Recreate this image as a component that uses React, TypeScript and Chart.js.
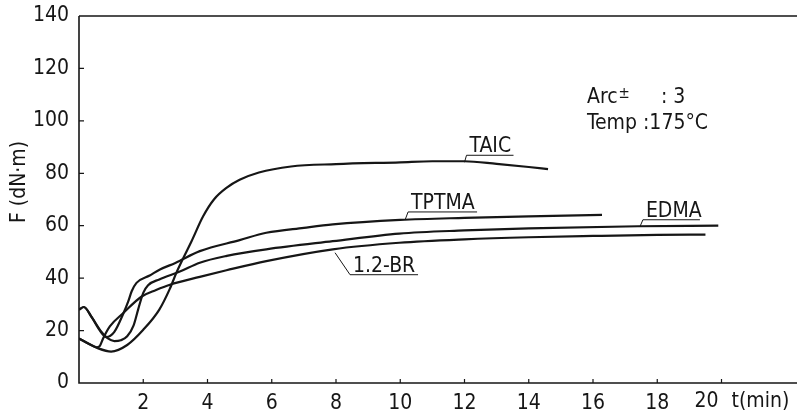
import { useEffect, useRef } from "react";
import { Chart, registerables } from "chart.js";

Chart.register(...registerables);

const FONT = '"DejaVu Sans Condensed", "DejaVu Sans", "Liberation Sans", sans-serif';
const INK = "#161616";

// Cure curves: torque F (dN·m) against time t (min)
const taicT = [0, 0.3, 0.6, 1.0, 1.5, 2.0, 2.5, 2.83, 3.03, 3.24, 3.5, 3.86, 4.2, 4.6, 5.0, 5.6, 6.6, 8.0, 10.0, 11.0, 12.0, 13.0, 14.0, 14.6];
const taicF = [17, 15, 13.2, 12, 14.5, 20.3, 28, 36, 42, 47.5, 54, 63.5, 70, 74.5, 77.5, 80.3, 82.6, 83.5, 84.2, 84.6, 84.6, 83.6, 82.4, 81.6];

const tptmaT = [0, 0.15, 0.4, 0.65, 0.85, 1.1, 1.38, 1.53, 1.64, 1.79, 2.2, 2.52, 3.0, 3.76, 5.0, 5.83, 7.0, 7.9, 10.0, 12.0, 14.0, 16.28];
const tptmaF = [28, 29, 25, 20, 17.5, 19.5, 26.5, 31, 35, 38.2, 41, 43.3, 45.8, 50.3, 54.5, 57.3, 59.2, 60.5, 62.2, 63.0, 63.6, 64.1];

const edmaT = [0, 0.15, 0.4, 0.7, 0.9, 1.1, 1.3, 1.5, 1.7, 1.84, 2.0, 2.15, 2.5, 3.14, 3.76, 4.6, 5.83, 7.9, 9.97, 12.0, 14.0, 17.4, 19.9];
const edmaF = [28, 29, 25, 19.5, 17, 16, 16.3, 17.8, 22, 28, 34.4, 37.3, 39.5, 42.5, 45.9, 48.5, 51, 54.1, 57.0, 58.2, 59.0, 59.8, 60.0];

const brT = [0, 0.3, 0.55, 0.65, 0.75, 0.96, 1.38, 1.95, 2.4, 2.83, 3.76, 4.59, 5.83, 7.9, 9.97, 12.0, 14.0, 16.0, 18.0, 19.5];
const brF = [17, 15, 13.6, 14.2, 17, 21.6, 26.7, 33, 35.5, 37.5, 40.5, 43, 46.5, 51, 53.5, 54.8, 55.6, 56.1, 56.5, 56.6];

const seriesNames = ["TAIC", "TPTMA", "EDMA", "1.2-BR"];

const xTicks = [2, 4, 6, 8, 10, 12, 14, 16, 18, 20];
const yTicks = [0, 20, 40, 60, 80, 100, 120, 140];
const xUnit = "t(min)";
const yTitle = "F (dN·m)";
const noteArc = ["Arc", "±", ": 3"];
const noteTemp = "Temp :175°C";

// Where each curve label's leader touches its curve (t, F)
const labelAnchorT = [12.0, 10.15, 17.46, 7.97];
const labelAnchorF = [84.2, 62.2, 59.6, 49.7];

const toPoints = (t: number[], f: number[]) => t.map((v, i) => ({ x: v, y: f[i] }));

export default function App() {
  const ref = useRef<HTMLCanvasElement | null>(null);

  useEffect(() => {
    const canvas = ref.current;
    if (!canvas) return;

    // label layout: leader offset to the underline start, underline width
    const labelGeom = [
      { dx: 2, dy: -7, w: 47 },
      { dx: 3, dy: -8, w: 69 },
      { dx: 3, dy: -7, w: 57 },
      { dx: 15, dy: 22, w: 68 },
    ];

    const decor = {
      id: "decor",
      afterDraw(chart: any) {
        const { ctx, chartArea } = chart;
        const xs = chart.scales.x;
        const ys = chart.scales.y;
        const W = chart.width;
        ctx.save();
        ctx.strokeStyle = INK;
        ctx.fillStyle = INK;
        ctx.lineCap = "butt";

        // frame: left, bottom, top
        ctx.lineWidth = 1.6;
        ctx.beginPath();
        ctx.moveTo(chartArea.left, chartArea.top);
        ctx.lineTo(W, chartArea.top);
        ctx.moveTo(chartArea.left, chartArea.top);
        ctx.lineTo(chartArea.left, chartArea.bottom);
        ctx.lineTo(W, chartArea.bottom);
        ctx.stroke();

        // inward tick marks
        ctx.lineWidth = 1.2;
        ctx.beginPath();
        yTicks.forEach((v) => {
          if (v === 0 || v === 140) return;
          const y = ys.getPixelForValue(v);
          ctx.moveTo(chartArea.left, y);
          ctx.lineTo(chartArea.left + 5, y);
        });
        xTicks.forEach((v) => {
          const x = xs.getPixelForValue(v);
          ctx.moveTo(x, chartArea.bottom);
          ctx.lineTo(x, chartArea.bottom - 4);
        });
        ctx.stroke();

        // last x tick label, then the unit
        ctx.font = `21px ${FONT}`;
        ctx.textBaseline = "middle";
        ctx.textAlign = "left";
        const last = xTicks[xTicks.length - 1];
        const lx = xs.getPixelForValue(last);
        ctx.fillText(String(last), lx - 27, 402);
        ctx.fillText(xUnit, lx + 10, 402);

        // y axis title
        ctx.save();
        ctx.translate(20, 182);
        ctx.rotate(-Math.PI / 2);
        ctx.textAlign = "center";
        ctx.fillText(yTitle, 0, 0);
        ctx.restore();

        // curve labels with leaders and underlines
        seriesNames.forEach((name, i) => {
          const ax = xs.getPixelForValue(labelAnchorT[i]);
          const ay = ys.getPixelForValue(labelAnchorF[i]);
          const g = labelGeom[i];
          const ux = ax + g.dx;
          const uy = ay + g.dy;
          ctx.lineWidth = 1;
          ctx.beginPath();
          ctx.moveTo(ax, ay);
          ctx.lineTo(ux, uy);
          ctx.lineTo(ux + g.w, uy);
          ctx.stroke();
          ctx.textAlign = "left";
          ctx.textBaseline = "alphabetic";
          ctx.fillText(name, ux + 3, uy - 3);
        });

        // test conditions
        ctx.textBaseline = "alphabetic";
        ctx.fillText(noteArc[0], 587, 103);
        const arcW = ctx.measureText(noteArc[0]).width;
        ctx.font = `15px ${FONT}`;
        ctx.fillText(noteArc[1], 587 + arcW + 1, 98);
        ctx.font = `21px ${FONT}`;
        ctx.fillText(noteArc[2], 661, 103);
        ctx.fillText(noteTemp, 587, 129);

        ctx.restore();
      },
    };

    const line = (pts: { x: number; y: number }[], label: string) => ({
      label,
      data: pts,
      borderColor: INK,
      borderWidth: 2.2,
      pointRadius: 0,
      fill: false,
      cubicInterpolationMode: "monotone" as const,
    });

    const chart = new Chart(canvas, {
      type: "line",
      data: {
        datasets: [
          line(toPoints(taicT, taicF), seriesNames[0]),
          line(toPoints(tptmaT, tptmaF), seriesNames[1]),
          line(toPoints(edmaT, edmaF), seriesNames[2]),
          line(toPoints(brT, brF), seriesNames[3]),
        ],
      },
      options: {
        responsive: false,
        animation: false,
        layout: { padding: { top: 16, right: 0, left: 0, bottom: 0 } },
        plugins: { legend: { display: false }, tooltip: { enabled: false } },
        scales: {
          x: {
            type: "linear",
            min: 0,
            max: 22.35,
            grid: { display: false, drawTicks: false },
            border: { display: false },
            afterBuildTicks: (s: any) => {
              s.ticks = xTicks.map((v) => ({ value: v }));
            },
            afterFit: (s: any) => {
              s.height = 31;
              s.paddingLeft = 0;
              s.paddingRight = 0;
            },
            ticks: {
              autoSkip: false,
              maxRotation: 0,
              padding: 8,
              color: INK,
              font: { family: FONT, size: 21 },
              callback: (v: any) => (v === xTicks[xTicks.length - 1] ? "" : String(v)),
            },
          },
          y: {
            min: 0,
            max: 140,
            grid: { display: false, drawTicks: false },
            border: { display: false },
            afterBuildTicks: (s: any) => {
              s.ticks = yTicks.map((v) => ({ value: v }));
            },
            afterFit: (s: any) => {
              s.width = 79;
              s.paddingTop = 0;
              s.paddingBottom = 0;
            },
            ticks: {
              padding: 10,
              color: INK,
              font: { family: FONT, size: 21 },
            },
          },
        },
      },
      plugins: [decor],
    });

    return () => chart.destroy();
  }, []);

  return (
    <div style={{ position: "fixed", left: 0, top: 0, width: 797, height: 414, background: "#fff" }}>
      <canvas ref={ref} width={797} height={414} />
    </div>
  );
}
